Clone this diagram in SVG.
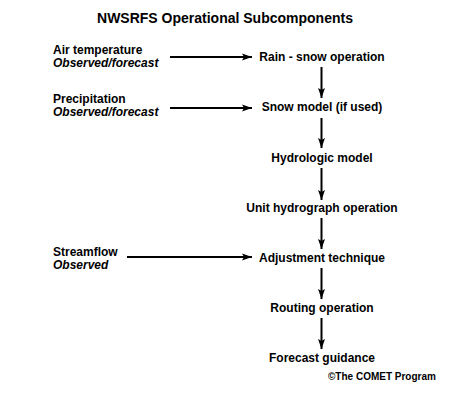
<svg xmlns="http://www.w3.org/2000/svg" width="450" height="400" viewBox="0 0 450 400">
<style>
text{font-family:"Liberation Sans",Arial,sans-serif;font-weight:bold;fill:#000}
.t{font-size:14px;text-anchor:middle}
.n{font-size:12px;text-anchor:middle}
.l{font-size:12px}
.i{font-style:italic}
.c{font-size:10px}
.a{stroke:#000;stroke-width:2;fill:none;marker-end:url(#ah)}
</style>
<defs>
<marker id="ah" markerUnits="userSpaceOnUse" markerWidth="11" markerHeight="8" refX="10" refY="4" orient="auto">
<path d="M0,0.5 L10,4 L0,7.5 L2,4 z" fill="#000"/>
</marker>
</defs>
<rect width="450" height="400" fill="#fff"/>
<text id="title" class="t" x="225" y="23">NWSRFS Operational Subcomponents</text>
<g id="in-air"><text class="l" x="53" y="54">Air temperature</text><text class="l i" x="53" y="67">Observed/forecast</text></g>
<g id="in-precip"><text class="l" x="53" y="103">Precipitation</text><text class="l i" x="53" y="116">Observed/forecast</text></g>
<g id="in-stream"><text class="l" x="53" y="256">Streamflow</text><text class="l i" x="53" y="269">Observed</text></g>
<g id="n1"><text class="n" x="322" y="61">Rain - snow operation</text></g>
<g id="n2"><text class="n" x="322" y="111">Snow model (if used)</text></g>
<g id="n3"><text class="n" x="322" y="161.5">Hydrologic model</text></g>
<g id="n4"><text class="n" x="322" y="211.5">Unit hydrograph operation</text></g>
<g id="n5"><text class="n" x="322" y="261.5">Adjustment technique</text></g>
<g id="n6"><text class="n" x="322" y="311.5">Routing operation</text></g>
<g id="n7"><text class="n" x="322" y="361.5">Forecast guidance</text></g>
<g id="connectors">
<line class="a" x1="170" y1="57" x2="252" y2="57"/>
<line class="a" x1="170" y1="108" x2="252" y2="108"/>
<line class="a" x1="127" y1="257" x2="252" y2="257"/>
<line class="a" x1="321.5" y1="67" x2="321.5" y2="98"/>
<line class="a" x1="321.5" y1="118" x2="321.5" y2="148"/>
<line class="a" x1="321.5" y1="168" x2="321.5" y2="200"/>
<line class="a" x1="321.5" y1="218" x2="321.5" y2="249"/>
<line class="a" x1="321.5" y1="268" x2="321.5" y2="299"/>
<line class="a" x1="321.5" y1="318" x2="321.5" y2="349"/>
</g>
<text id="credit" class="c" x="328" y="380">©The COMET Program</text>
</svg>
